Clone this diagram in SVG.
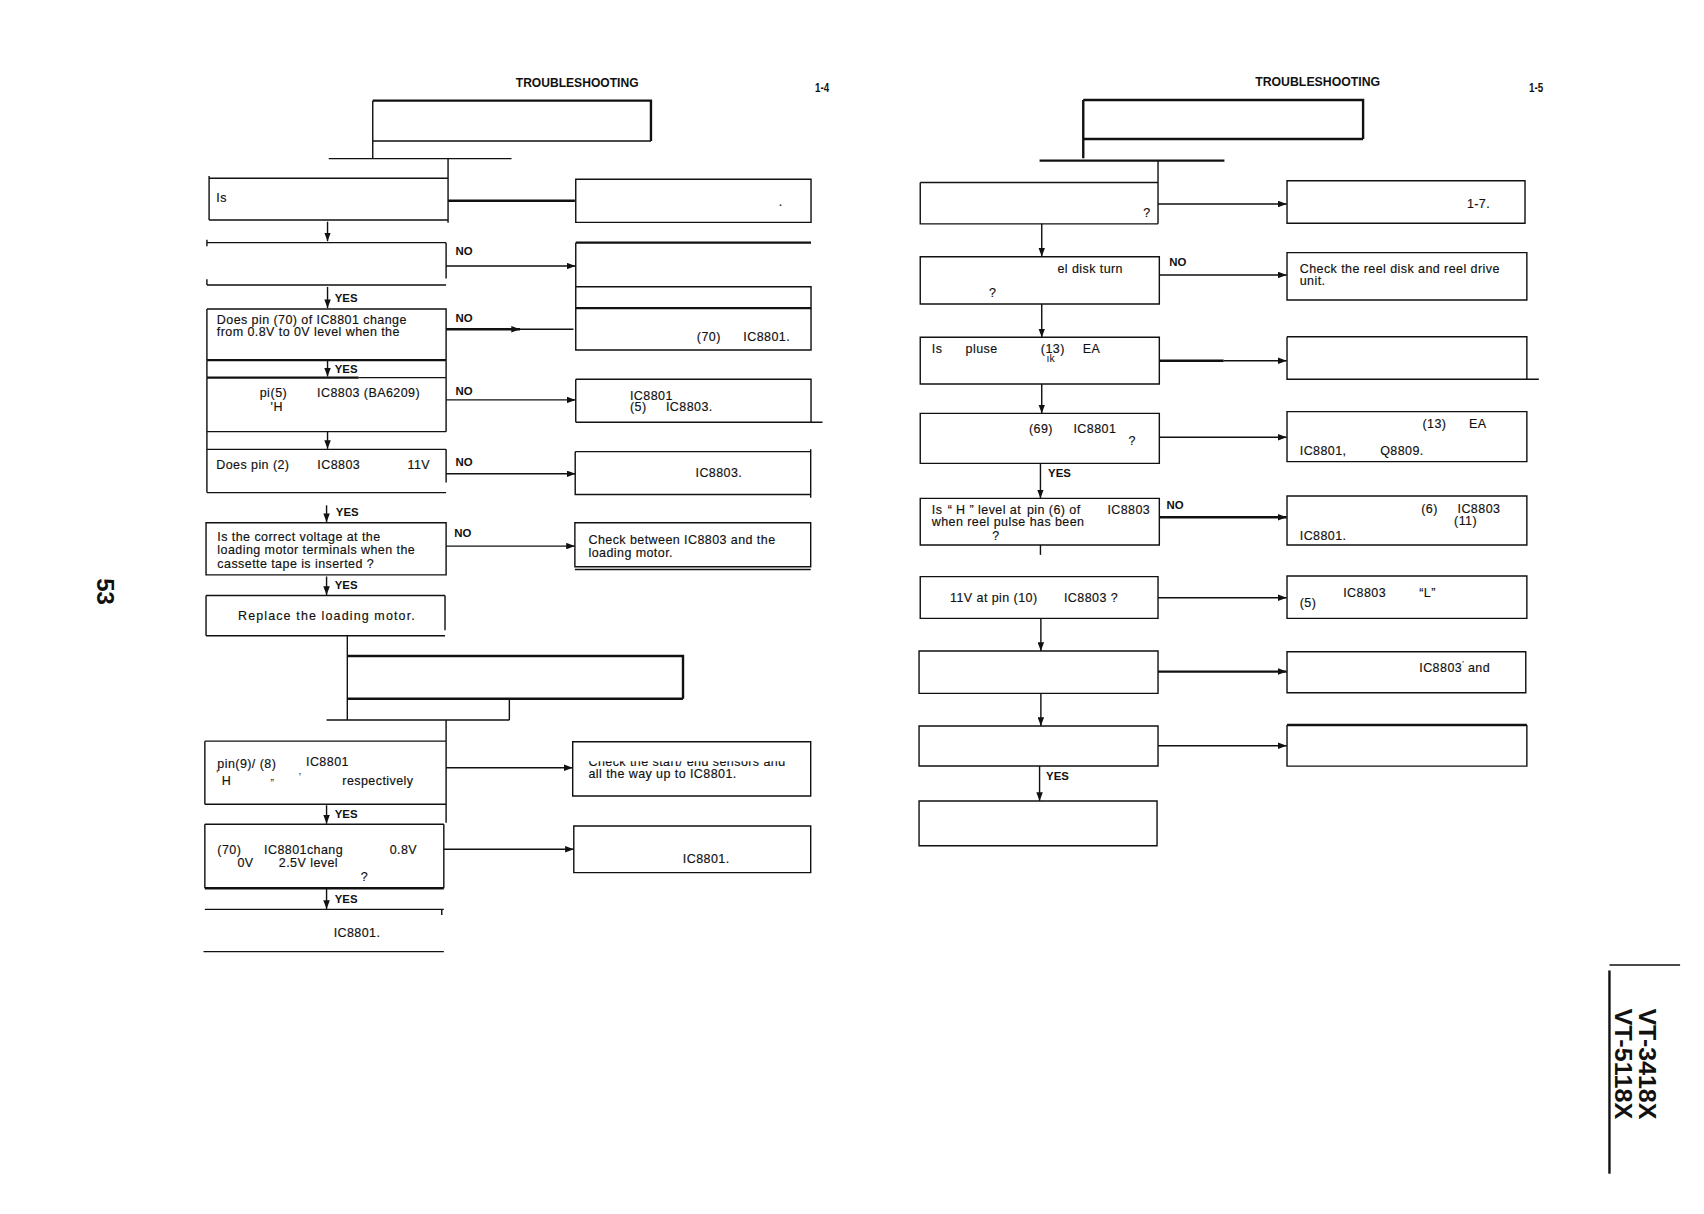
<svg xmlns="http://www.w3.org/2000/svg" width="1704" height="1214" viewBox="0 0 1704 1214">
<style>
.ln{fill:none;stroke:#111;stroke-width:1.3}
.tk{fill:none;stroke:#111;stroke-width:2.2}
.t{font-family:"Liberation Sans",Arial,sans-serif;font-size:11.5px;fill:#111;letter-spacing:0.4px;stroke:#111;stroke-width:0.15}
.s{font-family:"Liberation Sans",Arial,sans-serif;font-size:9.5px;fill:#111}
.b{font-family:"Liberation Sans",Arial,sans-serif;font-weight:bold;font-size:10.5px;fill:#111}
.h{font-family:"Liberation Sans",Arial,sans-serif;font-weight:bold;font-size:11px;fill:#111}
.v{font-family:"Liberation Sans",Arial,sans-serif;font-weight:bold;font-size:22px;fill:#111}
</style>
<defs>
<marker id="ah" markerWidth="8" markerHeight="6" refX="8" refY="3" orient="auto" markerUnits="userSpaceOnUse"><path d="M0,0 L8,3 L0,6 Z" fill="#111"/></marker>
<clipPath id="cut" clipPathUnits="userSpaceOnUse"><rect x="530" y="700.5" width="215" height="10"/></clipPath>
</defs>
<rect width="1704" height="1214" fill="#fff"/>
<g transform="scale(1.086735)">
<!-- page furniture -->
<g id="header-left">
<text class="h" x="474.6" y="80.4" textLength="113" lengthAdjust="spacingAndGlyphs">TROUBLESHOOTING</text>
<text class="h" x="750" y="84.4" font-size="9" textLength="13" lengthAdjust="spacingAndGlyphs">1-4</text>
</g>
<g id="header-right">
<text class="h" x="1155" y="79.1" textLength="115" lengthAdjust="spacingAndGlyphs">TROUBLESHOOTING</text>
<text class="h" x="1407" y="84.4" font-size="9" textLength="13" lengthAdjust="spacingAndGlyphs">1-5</text>
</g>
<g id="page-number">
<text class="v" font-size="19" transform="translate(89,532) rotate(90)">53</text>
</g>
<g id="model-label">
<path class="ln" d="M1481,888 H1546"/>
<path class="tk" d="M1481,893 V1080"/>
<text class="v" transform="translate(1508,928) rotate(90)" textLength="102" lengthAdjust="spacingAndGlyphs">VT-3418X</text>
<text class="v" transform="translate(1486,928) rotate(90)" textLength="102" lengthAdjust="spacingAndGlyphs">VT-5118X</text>
</g>

<!-- connectors -->
<g id="connectors">
<path class="ln" d="M302.5,146 H470.7"/>
<path class="tk" d="M412.3,184.7 H529"/>
<path class="ln" d="M301.4,204 V222" marker-end="url(#ah)"/>
<path class="ln" d="M410.5,244.8 H529.6" marker-end="url(#ah)"/>
<path class="ln" d="M301.4,264 V283.5" marker-end="url(#ah)"/>
<path class="tk" d="M410.5,303 H478.5" marker-end="url(#ah)"/>
<path class="ln" d="M478.5,303 H527.7"/>
<path class="ln" d="M301.4,332 V346.5" marker-end="url(#ah)"/>
<path class="ln" d="M410.5,368 H529.6" marker-end="url(#ah)"/>
<path class="ln" d="M301.4,397.2 V413" marker-end="url(#ah)"/>
<path class="ln" d="M410.5,436 H529.6" marker-end="url(#ah)"/>
<path class="ln" d="M300.5,465 V480.5" marker-end="url(#ah)"/>
<path class="ln" d="M410.5,502.5 H529" marker-end="url(#ah)"/>
<path class="ln" d="M300.5,530.5 V547.5" marker-end="url(#ah)"/>
<path class="ln" d="M319.6,585 V662.5"/>
<path class="ln" d="M468.7,643 V662.5 M300.5,662.5 H468.7 M410.5,662.5 V682"/>
<path class="ln" d="M410.5,706.4 H527" marker-end="url(#ah)"/>
<path class="ln" d="M300.5,741 V758" marker-end="url(#ah)"/>
<path class="ln" d="M408.4,781.5 H528" marker-end="url(#ah)"/>
<path class="ln" d="M300.5,818 V836.5" marker-end="url(#ah)"/>

<path class="tk" d="M956.6,147.8 H1126.7"/>
<path class="ln" d="M1065.6,187.7 H1184" marker-end="url(#ah)"/>
<path class="ln" d="M958.6,206 V236" marker-end="url(#ah)"/>
<path class="ln" d="M1066.8,253 H1184" marker-end="url(#ah)"/>
<path class="ln" d="M958.6,279.7 V310.4" marker-end="url(#ah)"/>
<path class="tk" d="M1066.8,331.9 H1126"/>
<path class="ln" d="M1126,331.9 H1184" marker-end="url(#ah)"/>
<path class="ln" d="M958.6,353.4 V380.4" marker-end="url(#ah)"/>
<path class="ln" d="M1066.8,402.4 H1184" marker-end="url(#ah)"/>
<path class="ln" d="M957.4,426.4 V458.6" marker-end="url(#ah)"/>
<path class="tk" d="M1066.8,476 H1184" marker-end="url(#ah)"/>
<path class="ln" d="M957.4,501.5 V510.6"/>
<path class="ln" d="M1065.6,550 H1184" marker-end="url(#ah)"/>
<path class="ln" d="M957.8,569 V599" marker-end="url(#ah)"/>
<path class="tk" d="M1065.6,618 H1184" marker-end="url(#ah)"/>
<path class="ln" d="M957.8,638 V668" marker-end="url(#ah)"/>
<path class="ln" d="M1065.6,686.2 H1184" marker-end="url(#ah)"/>
<path class="ln" d="M956.6,705 V737" marker-end="url(#ah)"/>
</g>

<!-- connector labels -->
<g id="labels">
<text class="b" x="419.2" y="234.7">NO</text>
<text class="b" x="308" y="277.6">YES</text>
<text class="b" x="419.2" y="296">NO</text>
<text class="b" x="308" y="343.5">YES</text>
<text class="b" x="419.2" y="363.5">NO</text>
<text class="b" x="419.2" y="428.8">NO</text>
<text class="b" x="309" y="475">YES</text>
<text class="b" x="418" y="494">NO</text>
<text class="b" x="308" y="542">YES</text>
<text class="b" x="308" y="753">YES</text>
<text class="b" x="308" y="830.6">YES</text>
<text class="b" x="1076" y="244.5">NO</text>
<text class="b" x="964.4" y="438.6">YES</text>
<text class="b" x="1073.4" y="468.7">NO</text>
<text class="b" x="962.6" y="717.8">YES</text>
</g>

<!-- left page nodes -->
<g id="L-title1">
<path class="tk" d="M343,92.6 H599 V129.8"/>
<path class="ln" d="M343,129.8 H599 M343,92.6 V146.3"/>
</g>
<g id="L-q1">
<path class="ln" d="M192.4,164 H412.3 M192.4,202.5 H412.3 M192.4,162 V202.5 M412.3,146 V204.9"/>
<text class="t" x="199" y="185.6">Is</text>
</g>
<g id="L-a1">
<path class="ln" d="M529.8,165 H746.3 V204.6 H529.8 Z"/>
<text class="t" x="716.5" y="189.3">.</text>
</g>
<g id="L-q2">
<path class="ln" d="M190.4,223.3 H410.5 M190.4,220.5 V226.5 M410.5,223.3 V256.3 M190.4,262.3 H410.5 M190.4,257 V262.3"/>
</g>
<g id="L-a2">
<path class="tk" d="M529.8,223.3 H746.3"/>
<path class="ln" d="M529.8,223.3 V264"/>
<path class="ln" d="M529.8,263.8 H746.3 V283.7 M529.8,263.8 V283.7"/>
<path class="tk" d="M529.8,283.5 H746.3"/>
<path class="ln" d="M529.8,283.5 V322 H746.3 V283.5"/>
<text class="t" x="641.2" y="313.8">(70)</text>
<text class="t" x="684" y="313.8">IC8801.</text>
</g>
<g id="L-q3">
<path class="ln" d="M190.4,284.4 H410.5 V331.4 M190.4,284.4 V331.4"/>
<path class="tk" d="M190.4,331.4 H410.5"/>
<text class="t" x="199.5" y="298.5">Does pin (70) of IC8801 change</text>
<text class="t" x="199.5" y="309.2">from 0.8V  to 0V level when the</text>
</g>
<g id="L-q3b">
<path class="ln" d="M190.4,331.4 V347.5 M410.5,331.4 V347.5 M330,347.5 H410.5"/>
<path class="tk" d="M190.4,347.5 H330"/>
</g>
<g id="L-q4">
<path class="ln" d="M190.4,347.5 V453.3 M410.5,347.5 V397.2 M190.4,397.2 H410.5"/>
<text class="t" x="239" y="365.5">pi</text>
<text class="t" x="249" y="365.5">(5)</text>
<text class="t" x="249" y="378.5" font-size="9.5">'H</text>
<text class="t" x="291.8" y="365.5">IC8803 (BA6209)</text>
</g>
<g id="L-a4">
<path class="ln" d="M529.8,349 H746.3 V388.6 M529.8,349 V388.6 M529.8,388.6 H756.8"/>
<text class="t" x="579.7" y="368.2">IC8801</text>
<text class="t" x="579.7" y="378">(5)</text>
<text class="t" x="612.8" y="378">IC8803.</text>
</g>
<g id="L-q5">
<path class="ln" d="M190.4,413.5 H410.5 M410.5,413.5 V444 M190.4,453.3 H410.5"/>
<text class="t" x="199" y="432">Does pin (2)</text>
<text class="t" x="292" y="432">IC8803</text>
<text class="t" x="375" y="432">11V</text>
</g>
<g id="L-a5">
<path class="ln" d="M529.3,415.6 H746 M529.3,415.6 V455 H746 M746,413.5 V458"/>
<text class="t" x="640" y="438.7">IC8803.</text>
</g>
<g id="L-q6">
<path class="ln" d="M189.6,481 H410.5 V529 H189.6 Z"/>
<text class="t" x="200" y="497.5">Is the correct  voltage at the</text>
<text class="t" x="200" y="509.8">loading motor terminals when the</text>
<text class="t" x="200" y="522.4">cassette tape is inserted ?</text>
</g>
<g id="L-a6">
<path class="ln" d="M529,481 H746 V521.5 H529 Z M529,524 H746"/>
<text class="t" x="541.5" y="500.6">Check between IC8803 and the</text>
<text class="t" x="541.5" y="512.3">loading motor.</text>
</g>
<g id="L-end1">
<path class="ln" d="M189.6,548 H409.5 M189.6,548 V585 M409.5,548 V580 M189.6,585 H409.5"/>
<text class="t" x="219" y="570.5" textLength="163" lengthAdjust="spacing">Replace the loading motor.</text>
</g>
<g id="L-title2">
<path class="tk" d="M319.6,603.6 H628.5 V643 M319.6,643 H628.5"/>
</g>
<g id="L-q7">
<path class="ln" d="M188.5,682 H410.5 M188.5,682 V740 M410.5,682 V757 M188.5,740 H410.5"/>
<text class="t" x="200" y="706.9">pin(9)/ (8)</text>
<text class="s" x="249" y="718">„</text>
<text class="s" x="275" y="712">‚</text>
<text class="t" x="281.6" y="704.5" font-size="10.5">IC8801</text>
<text class="s" x="199" y="716">'</text>
<text class="t" x="204" y="722.4">H</text>
<text class="t" x="315" y="722.4">respectively</text>
</g>
<g id="L-a7">
<path class="ln" d="M527,682.5 H746 V732.5 H527 Z"/>
<text class="t" x="541.5" y="704.5" clip-path="url(#cut)">Check the start/ end sensors and</text>
<text class="t" x="541.5" y="716">all the way up to IC8801.</text>
</g>
<g id="L-q8">
<path class="ln" d="M188.5,758.5 H408.4 M188.5,758.5 V817.4 M408.4,758.5 V817.4"/>
<path class="tk" d="M188.5,817.4 H408.4"/>
<text class="t" x="200" y="785.9">(70)</text>
<text class="t" x="243" y="785.9">IC8801chang</text>
<text class="t" x="358.6" y="785.9">0.8V</text>
<text class="t" x="218.5" y="798">0V</text>
<text class="t" x="256.6" y="798">2.5V level</text>
<text class="t" x="332" y="811">?</text>
</g>
<g id="L-a8">
<path class="ln" d="M528,760 H746 V803 H528 Z"/>
<text class="t" x="628.3" y="794.4">IC8801.</text>
</g>
<g id="L-end2">
<path class="ln" d="M188.5,836.8 H408.4 M406.5,836.8 V842 M187.3,875.7 H408.4"/>
<text class="t" x="307" y="862">IC8801.</text>
</g>

<!-- right page nodes -->
<g id="R-title">
<path class="tk" d="M996.8,92 H1254.3 V127.9 M996.8,127.9 H1254.3 M996.8,92 V145.7"/>
</g>
<g id="R-q1">
<path class="ln" d="M846.8,168 H1065.6 M846.8,168 V206 H1065.6 M1065.6,147.8 V206"/>
<text class="t" x="1052" y="200">?</text>
</g>
<g id="R-a1">
<path class="ln" d="M1184.3,166.3 H1403.3 V205.5 H1184.3 Z"/>
<text class="t" x="1349.8" y="191.7">1-7.</text>
</g>
<g id="R-q2">
<path class="ln" d="M846.8,236.2 H1066.8 V279.7 H846.8 Z"/>
<text class="t" x="973" y="251.5">el disk turn</text>
<text class="t" x="910" y="273">?</text>
</g>
<g id="R-a2">
<path class="ln" d="M1184.3,232.5 H1405 V276 H1184.3 Z"/>
<text class="t" x="1196" y="251.5">Check the reel disk and reel drive</text>
<text class="t" x="1196" y="261.8">unit.</text>
</g>
<g id="R-q3">
<path class="ln" d="M846.8,310.4 H1066.8 V353.4 H846.8 Z"/>
<text class="t" x="857.4" y="325.1">Is</text>
<text class="t" x="888.5" y="325.1">pluse</text>
<text class="t" x="957.8" y="325.1">(13)</text>
<text class="t" x="996.3" y="325.1">EA</text>
<text class="s" x="963" y="333.5">ık</text>
</g>
<g id="R-a3">
<path class="ln" d="M1184.3,309.8 H1405 V349 M1184.3,309.8 V349 H1416"/>
</g>
<g id="R-q4">
<path class="ln" d="M846.8,380.4 H1066.8 V426.4 H846.8 Z"/>
<text class="t" x="946.9" y="398.8">(69)</text>
<text class="t" x="987.8" y="398.8">IC8801</text>
<text class="t" x="1038.4" y="409.5">?</text>
</g>
<g id="R-a4">
<path class="ln" d="M1184.3,378.8 H1405 V424.8 H1184.3 Z"/>
<text class="t" x="1308.9" y="394.2">(13)</text>
<text class="t" x="1351.7" y="394.2">EA</text>
<text class="t" x="1196" y="418.7">IC8801,</text>
<text class="t" x="1270" y="418.7">Q8809.</text>
</g>
<g id="R-q5">
<path class="ln" d="M846.8,458.6 H1066.8 V501.5 H846.8 Z"/>
<text class="t" x="857.4" y="473">Is</text>
<text class="t" x="872" y="473">“ H ”</text>
<text class="t" x="900" y="473">level at</text>
<text class="t" x="945" y="473">pin (6) of</text>
<text class="t" x="1019" y="473">IC8803</text>
<text class="t" x="857.4" y="484">when reel pulse has been</text>
<text class="t" x="913" y="496.5">?</text>
</g>
<g id="R-a5">
<path class="ln" d="M1184.3,456.4 H1405 V501.5 H1184.3 Z"/>
<text class="t" x="1307.8" y="471.8">(6)</text>
<text class="t" x="1341.2" y="471.8">IC8803</text>
<text class="t" x="1338" y="483.5">(11)</text>
<text class="t" x="1196" y="496.5">IC8801.</text>
</g>
<g id="R-q6">
<path class="ln" d="M846.8,530.6 H1065.6 V569 H846.8 Z"/>
<text class="t" x="874.2" y="553.6">11V at pin (10)</text>
<text class="t" x="979" y="553.6">IC8803 ?</text>
</g>
<g id="R-a6">
<path class="ln" d="M1184.3,530 H1405 V569 H1184.3 Z"/>
<text class="t" x="1236" y="549">IC8803</text>
<text class="t" x="1306" y="549">“L”</text>
<text class="t" x="1196" y="558.8">(5)</text>
</g>
<g id="R-q7">
<path class="ln" d="M845.7,599 H1065.6 V638 H845.7 Z"/>
</g>
<g id="R-a7">
<path class="ln" d="M1184.3,599.7 H1404 V637.4 H1184.3 Z"/>
<text class="t" x="1306" y="618">IC8803<tspan font-size="7" dy="-5">'</tspan><tspan dy="5"> and</tspan></text>
</g>
<g id="R-q8">
<path class="ln" d="M845.7,668 H1065.6 V704.9 H845.7 Z"/>
</g>
<g id="R-a8">
<path class="tk" d="M1184.3,667.2 H1405"/>
<path class="ln" d="M1405,667.2 V705 H1184.3 V667.2"/>
</g>
<g id="R-end">
<path class="ln" d="M845.7,737.1 H1064.7 V778.2 H845.7 Z"/>
</g>
</g>
</svg>
